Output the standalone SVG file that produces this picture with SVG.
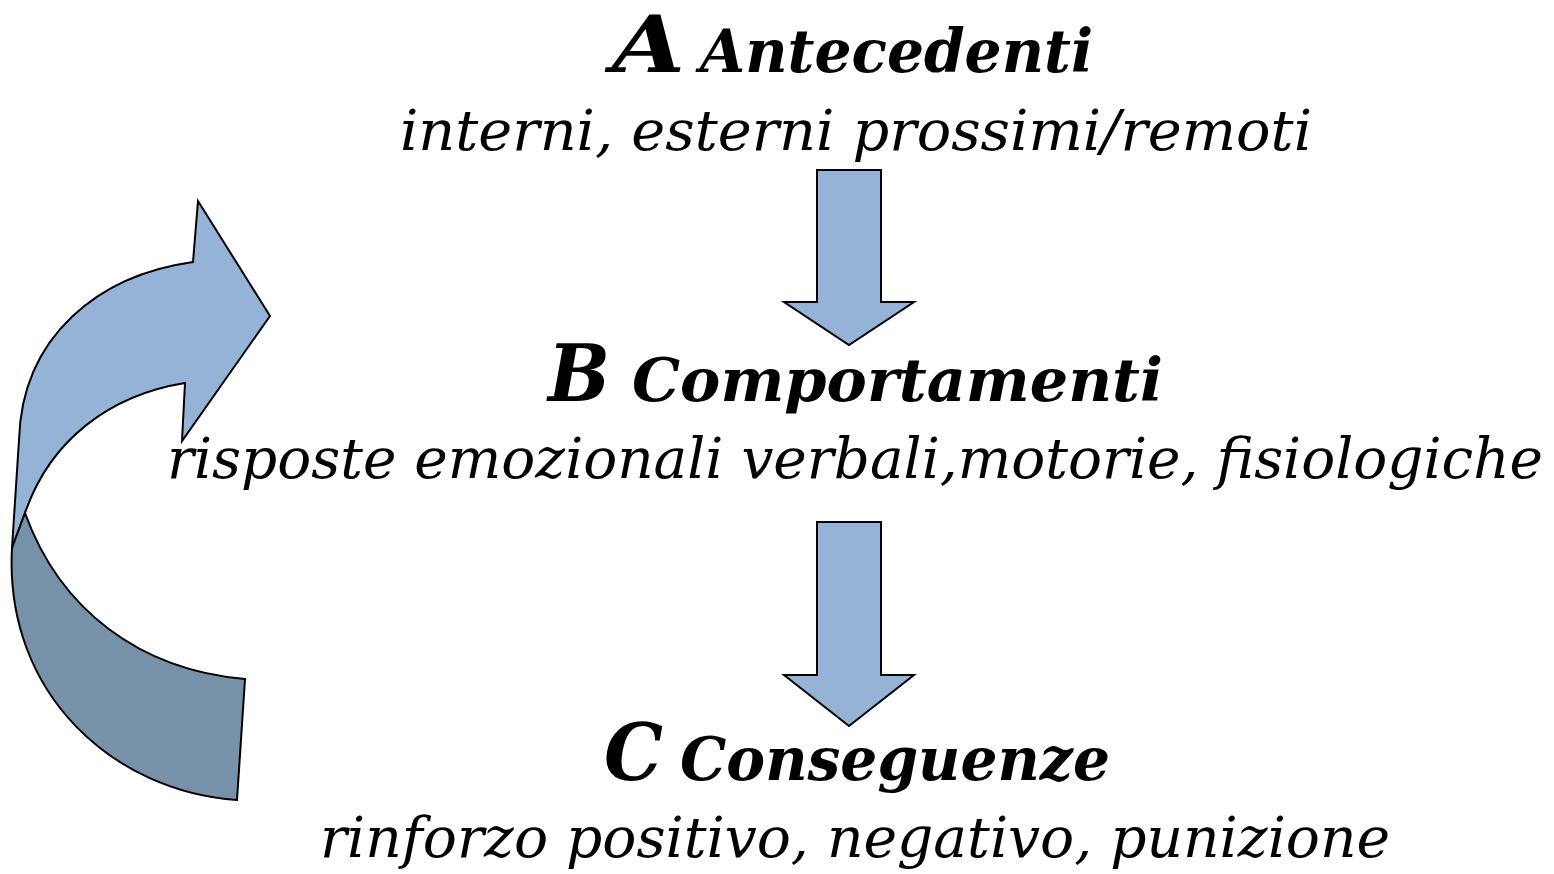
<svg xmlns="http://www.w3.org/2000/svg" width="1554" height="874" viewBox="0 0 1554 874">
<style>
.t{font-family:"DejaVu Serif","Liberation Serif",serif;font-style:italic;fill:#000}
.big{font-size:78px;font-weight:bold}
.hd{font-size:60px;font-weight:bold}
.sub{font-size:56px}
.arr{fill:#95b3d7;stroke:#000;stroke-width:2;stroke-linejoin:miter}
.dark{fill:#7791a9;stroke:#000;stroke-width:2}
</style>
<rect width="1554" height="874" fill="#fff"/>
<g id="connectors">
<path id="arrowAB" class="arr" d="M817,170 H881 V302 H914 L849,345 L784,302 H817 Z"/>
<path id="arrowBC" class="arr" d="M817,522 H881 V675 H914 L849,726 L784,675 H817 Z"/>
<g id="feedback">
<path class="arr" d="M12,548 L19,440 C22,335 100,275 193,262 L198,201 L270,316 L182,441 L185,383 C110,395 50,440 25,513 Z"/>
<path class="dark" d="M12,548 C4,695 115,792 237,800 L245,679 C140,670 60,610 25,513 Z"/>
</g>
</g>
<g id="nodeA">
<text class="t big" x="612" y="72" textLength="73" lengthAdjust="spacingAndGlyphs">A</text>
<text class="t hd" x="700" y="72" textLength="393" lengthAdjust="spacingAndGlyphs">Antecedenti</text>
<text class="t sub" x="400" y="150" textLength="912" lengthAdjust="spacingAndGlyphs">interni, esterni prossimi/remoti</text>
</g>
<g id="nodeB">
<text class="t big" x="548" y="401" textLength="62" lengthAdjust="spacingAndGlyphs">B</text>
<text class="t hd" x="632" y="401" textLength="531" lengthAdjust="spacingAndGlyphs">Comportamenti</text>
<text class="t sub" x="167" y="478" textLength="1376" lengthAdjust="spacingAndGlyphs">risposte emozionali verbali,motorie, fisiologiche</text>
</g>
<g id="nodeC">
<text class="t big" x="604" y="780" textLength="59" lengthAdjust="spacingAndGlyphs">C</text>
<text class="t hd" x="680" y="780" textLength="430" lengthAdjust="spacingAndGlyphs">Conseguenze</text>
<text class="t sub" x="320" y="857" textLength="1070" lengthAdjust="spacingAndGlyphs">rinforzo positivo, negativo, punizione</text>
</g>
</svg>
